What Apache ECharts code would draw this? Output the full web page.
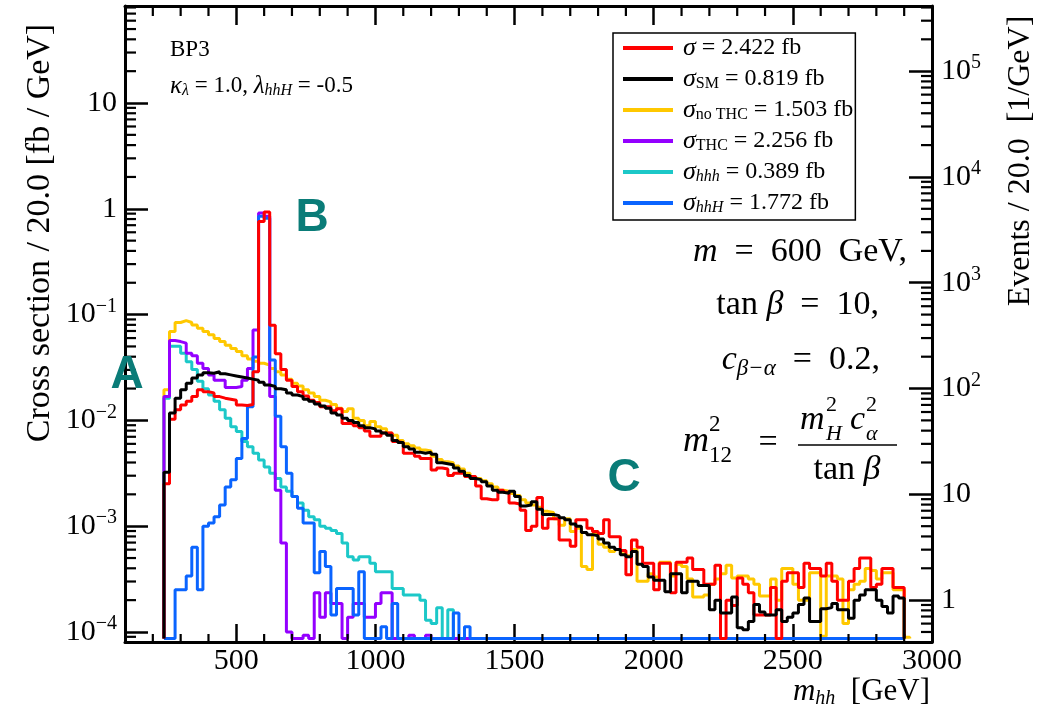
<!DOCTYPE html>
<html lang="en">
<head>
<meta charset="utf-8">
<title>BP3 m_hh distribution</title>
<script src="https://cdn.jsdelivr.net/npm/echarts@6.0.0/dist/echarts.min.js"></script>
<style>
    html, body { margin: 0; padding: 0; background: #fff; }
    #main { width: 1041px; height: 723px; }
</style>
</head>
<body>
<div id="main"></div>
<script>
// 20 GeV bins, first bin starts at 240 GeV; bins past the end of a list are empty
const binStart = 240
const binWidth = 20
const nBins = 133

// log10 of cross section / 20 GeV [fb/GeV] for each bin, null = empty bin
const sigmaLog = [
    -2.60, -1.99, -1.90, -1.855, -1.82, -1.775, -1.71, -1.73, -1.74, -1.775,
    -1.79, -1.80, -1.81, -1.855, -1.86, -1.85, -1.54, -0.12, -0.03, -1.10,
    -1.37, -1.52, -1.62, -1.68, -1.73, -1.77, -1.81, -1.83, -1.87, -1.87,
    -1.91, -1.89, -2.03, -2.03, -2.05, -2.07, -2.10, -2.15, -2.15, -2.12,
    -2.12, -2.20, -2.21, -2.31, -2.31, -2.34, -2.36, -2.36, -2.47, -2.45,
    -2.46, -2.52, -2.50, -2.50, -2.53, -2.53, -2.62, -2.74, -2.75, -2.75,
    -2.66, -2.68, -2.78, -2.79, -2.85, -3.04, -3.00, -2.73, -3.02, -2.93,
    -2.93, -3.13, -3.13, -3.19, -2.94, -2.94, -3.02, -3.05, -3.07, -2.94,
    -3.10, -3.10, -3.23, -3.46, -3.13, -3.20, -3.35, -3.35, -3.60, -3.35,
    -3.35, -3.63, -3.34, -3.34, -3.30, -3.41, -3.41, -3.55, -3.55, -3.37,
    null, -3.70, -3.75, -3.49, -3.55, -3.63, -3.84, -3.84, -3.84, -3.58,
    null, -3.52, -3.44, -3.44, -3.58, -3.35, -3.40, -3.40, -3.47, -3.35,
    -3.52, -3.70, -3.70, -3.52, -3.40, -3.30, -3.30, -3.58, -3.55, -3.40,
    -3.40, -3.58, -3.58
]
const smLog = [
    -2.49, -1.93, -1.79, -1.71, -1.65, -1.60, -1.57, -1.55, -1.555, -1.54,
    -1.56, -1.57, -1.58, -1.59, -1.60, -1.61, -1.62, -1.64, -1.665, -1.68,
    -1.70, -1.71, -1.74, -1.76, -1.775, -1.80, -1.82, -1.845, -1.865, -1.885,
    -1.93, -1.95, -1.98, -2.00, -2.02, -2.05, -2.07, -2.08, -2.10, -2.12,
    -2.14, -2.19, -2.21, -2.25, -2.27, -2.30, -2.31, -2.30, -2.32, -2.40,
    -2.41, -2.42, -2.45, -2.48, -2.52, -2.55, -2.56, -2.58, -2.62, -2.66,
    -2.68, -2.69, -2.67, -2.72, -2.81, -2.80, -2.77, -2.84, -2.89, -2.89,
    -2.90, -2.92, -2.94, -2.98, -3.00, -3.06, -3.08, -3.09, -3.12, -3.16,
    -3.20, -3.22, -3.27, -3.29, -3.24, -3.36, -3.38, -3.48, -3.51, -3.51,
    -3.62, -3.45, -3.45, -3.63, -3.52, -3.52, -3.56, -3.56, -3.79, -3.70,
    -3.82, -3.82, -3.67, -3.96, -3.98, -3.90, -3.74, -3.81, -3.84, -3.84,
    -3.79, -3.90, -3.86, -3.82, -3.74, -3.68, -3.90, -3.90, -3.78, -3.77,
    -3.73, -3.79, -3.79, -3.87, -3.70, -3.65, -3.60, -3.60, -3.70, -3.76,
    -3.82, -3.66, -3.68
]
// no-THC has one extra bin (2900-2920)
const noThcLog = [
    -1.71, -1.16, -1.075, -1.057, -1.075, -1.098, -1.13, -1.16, -1.19, -1.225,
    -1.255, -1.29, -1.32, -1.35, -1.39, -1.42, -1.44, -1.46, -1.477, -1.51,
    -1.54, -1.57, -1.61, -1.65, -1.675, -1.71, -1.74, -1.775, -1.81, -1.825,
    -1.85, -1.885, -1.915, -1.89, -1.98, -2.00, -2.05, -2.01, -2.06, -2.08,
    -2.12, -2.14, -2.19, -2.22, -2.24, -2.26, -2.28, -2.29, -2.34, -2.37,
    -2.39, -2.40, -2.43, -2.46, -2.50, -2.53, -2.55, -2.57, -2.60, -2.63,
    -2.66, -2.67, -2.69, -2.71, -2.75, -2.78, -2.80, -2.82, -2.86, -2.87,
    -2.93, -2.99, -2.93, -3.05, -3.02, -3.38, -3.41, -3.07, -3.17, -3.20,
    -3.24, -3.22, -3.26, -3.28, -3.22, -3.52, -3.52, -3.45, -3.48, -3.34,
    -3.34, -3.47, -3.36, -3.38, -3.50, -3.67, -3.67, -3.65, -3.55, -3.50,
    -3.45, -3.37, -3.49, -3.47, -3.47, -3.50, -3.55, -3.66, -3.66, -3.50,
    -3.70, -3.40, -3.40, -3.55, -3.70, -3.70, -3.44, -3.44, -4.04, -3.47,
    -3.47, -3.50, -3.92, -3.60, -3.55, -3.52, -3.40, -3.42, -3.50, -3.44,
    -3.44, -3.60, -3.60, -4.05
]
const thcLog = [
    -1.775, -1.245, -1.255, -1.27, -1.365, -1.39, -1.46, -1.51, -1.57, -1.62,
    -1.62, -1.69, -1.69, -1.68, -1.62, -1.51, -1.145, -0.04, -0.07, -1.775,
    -2.66, -3.16, -4.0, null, null, -4.03, null, -3.63, -3.86, -3.63,
    -3.73, -3.73, null, -3.86, -3.73, -3.73, -3.86, -3.86, -3.73, -3.63,
    -3.63, null, null, null, -4.03, null, null, -4.03
]
const hhhLog = [
    -1.79, -1.30, -1.30, -1.365, -1.445, -1.52, -1.63, -1.70, -1.76, -1.82,
    -1.90, -1.98, -2.06, -2.105, -2.20, -2.25, -2.31, -2.375, -2.44, -2.50,
    -2.55, -2.63, -2.67, -2.72, -2.78, -2.85, -2.91, -2.94, -3.00, -3.02,
    -3.04, -3.07, -3.16, -3.29, -3.32, -3.29, -3.29, -3.35, -3.43, -3.43,
    -3.43, -3.59, -3.59, -3.65, -3.65, -3.65, -3.70, -3.89, -3.92, -3.77,
    null, -3.79
]
const hhHLog = [
    null, null, -3.60, -3.60, -3.47, -3.20, -3.60, -3.00, -2.97, -2.91,
    -2.80, -2.63, -2.56, -2.36, -2.17, -1.87, -1.40, -0.07, -0.09, -1.43,
    -1.96, -2.25, -2.50, -2.72, -2.83, -2.97, -2.97, -3.44, -3.24, -3.38,
    -3.84, -3.59, -3.59, -3.59, -3.84, -3.43, null, null, null, -3.95,
    null, -3.73, null, null, null, null, null, null, null, null,
    null, null, -3.82, null, -3.95
]

// legend entries
const legendSub = ['', 'SM', 'no THC', 'THC', 'hhh', 'hhH']
const legendXsec = ['2.422', '0.819', '1.503', '2.256', '0.389', '1.772']
const colors = ['#ff0000', '#000000', '#ffc800', '#9400ff', '#1cc8c8', '#0a64ff']

// axes
const xMin = 100
const xMax = 3000
const yMin = 8.04e-5
const yMax = 82.6
const eventsPerFb = 5000
const floorVal = yMin * 1.08

const serif = 'Liberation Serif'
const teal = '#0a7c78'

const names = legendSub.map((s, i) => 'σ' + s + ' = ' + legendXsec[i] + ' fb')

function toSteps (logs, n) {
    const pts = [[binStart, floorVal]]
    for (let i = 0; i < n; i++) {
        const l = logs[i]
        pts.push([binStart + i * binWidth, l == null ? floorVal : Math.pow(10, l)])
    }
    pts.push([binStart + n * binWidth, floorVal])
    return pts
}

function histSeries (idx, logs, n) {
    return {
        name: names[idx],
        type: 'line',
        step: 'end',
        data: toSteps(logs, n),
        symbol: 'none',
        color: colors[idx],
        lineStyle: { color: colors[idx], width: 3 },
        clip: true,
        animation: false
    }
}

// minor tick positions
const xMinor = []
for (let m = 200; m < xMax; m += 100) {
    if (m % 500 !== 0) xMinor.push(m)
}
function logMinor (lo, hi) {
    const out = []
    for (let e = -6; e <= 6; e++) {
        for (let k = 2; k <= 9; k++) {
            const v = k * Math.pow(10, e)
            if (v > lo && v < hi) out.push(v)
        }
    }
    return out
}

function tickSeries (pts, dx, dy, yIdx) {
    return {
        type: 'custom',
        xAxisIndex: 0,
        yAxisIndex: yIdx,
        silent: true,
        z: 6,
        animation: false,
        data: pts,
        renderItem (params, api) {
            const p = api.coord([api.value(0), api.value(1)])
            return {
                type: 'line',
                shape: { x1: p[0], y1: p[1], x2: p[0] + dx, y2: p[1] + dy },
                style: { stroke: '#000', lineWidth: 2.2 }
            }
        }
    }
}

function powLabel (v) {
    const e = Math.round(Math.log10(v))
    if (e === 0) return '{b|1}'
    if (e === 1) return '{b|10}'
    return '{b|10}{sup|' + (e < 0 ? '−' + (-e) : e) + '}'
}
const powRich = {
    b: { fontFamily: serif, fontSize: 30, lineHeight: 36, color: '#000' },
    sup: { fontFamily: serif, fontSize: 20, lineHeight: 16, verticalAlign: 'top', color: '#000' }
}

const mathRich = {
    i: { fontFamily: serif, fontStyle: 'italic', fontSize: 34, lineHeight: 40, color: '#000' },
    r: { fontFamily: serif, fontSize: 34, lineHeight: 40, color: '#000' },
    sub: { fontFamily: serif, fontStyle: 'italic', fontSize: 23, lineHeight: 18, verticalAlign: 'bottom', color: '#000' }
}

function txt (x, y, text, size, opts) {
    opts = opts || {}
    return {
        type: 'text', x: x, y: y, z: 10, rotation: opts.rotation || 0,
        style: {
            text: text, fill: opts.color || '#000',
            fontFamily: opts.family || serif, fontSize: size,
            fontStyle: opts.italic ? 'italic' : 'normal',
            fontWeight: opts.bold ? 'bold' : 'normal',
            align: opts.align || 'left', verticalAlign: 'middle'
        }
    }
}

const axisLineStyle = { color: '#000', width: 3 }
const tickStyle = { color: '#000', width: 2.5 }

const option = {
    animation: false,
    backgroundColor: '#fff',
    grid: { left: 125, right: 109, top: 6, bottom: 81, containLabel: false, outerBoundsMode: 'none' },
    legend: {
        data: names,
        orient: 'vertical',
        left: 613,
        top: 33,
        icon: 'rect',
        itemWidth: 50,
        itemHeight: 4,
        itemGap: 5,
        selectedMode: false,
        borderColor: '#000',
        borderWidth: 1.5,
        borderRadius: 0,
        padding: [2, 2, 4, 10],
        formatter (name) {
            const i = names.indexOf(name)
            const sub = legendSub[i] ? (i >= 4 ? '{subi|' + legendSub[i] + '}' : '{sub|' + legendSub[i] + '}') : ''
            return '{g|σ}' + sub + '{t| = ' + legendXsec[i] + ' fb}'
        },
        textStyle: {
            color: '#000',
            rich: {
                g: { fontFamily: serif, fontStyle: 'italic', fontSize: 26, lineHeight: 26, color: '#000', padding: [0, 0, 0, 5] },
                sub: { fontFamily: serif, fontSize: 16, lineHeight: 12, verticalAlign: 'bottom', color: '#000' },
                subi: { fontFamily: serif, fontStyle: 'italic', fontSize: 16, lineHeight: 12, verticalAlign: 'bottom', color: '#000' },
                t: { fontFamily: serif, fontSize: 24, lineHeight: 26, color: '#000' }
            }
        }
    },
    xAxis: [
        {
            type: 'value', min: xMin, max: xMax, position: 'bottom',
            minInterval: 500, maxInterval: 500,
            axisLine: { onZero: false, lineStyle: axisLineStyle },
            axisTick: { inside: true, length: 18, lineStyle: tickStyle },
            axisLabel: { showMinLabel: false, margin: 4, fontFamily: serif, fontSize: 30, color: '#000', formatter: v => String(v) },
            splitLine: { show: false }
        },
        {
            type: 'value', min: xMin, max: xMax, position: 'top',
            minInterval: 500, maxInterval: 500,
            axisLine: { onZero: false, lineStyle: axisLineStyle },
            axisTick: { inside: true, length: 19, lineStyle: tickStyle },
            axisLabel: { show: false },
            splitLine: { show: false }
        }
    ],
    yAxis: [
        {
            type: 'log', logBase: 10, min: yMin, max: yMax, position: 'left',
            axisLine: { onZero: false, lineStyle: axisLineStyle },
            axisTick: { inside: true, length: 23, lineStyle: tickStyle },
            axisLabel: { showMinLabel: false, showMaxLabel: false, margin: 8, formatter: powLabel, rich: powRich },
            splitLine: { show: false }
        },
        {
            type: 'log', logBase: 10, min: yMin * eventsPerFb, max: yMax * eventsPerFb, position: 'right',
            axisLine: { onZero: false, lineStyle: axisLineStyle },
            axisTick: { inside: true, length: 23, lineStyle: tickStyle },
            axisLabel: { showMinLabel: false, showMaxLabel: false, margin: 9, formatter: powLabel, rich: powRich },
            splitLine: { show: false }
        }
    ],
    series: [
        histSeries(2, noThcLog, nBins + 1),
        histSeries(4, hhhLog, nBins),
        histSeries(3, thcLog, nBins),
        histSeries(5, hhHLog, nBins),
        histSeries(0, sigmaLog, nBins),
        histSeries(1, smLog, nBins),
        tickSeries(logMinor(yMin, yMax).map(v => [xMin, v]), 11, 0, 0),
        tickSeries(logMinor(yMin * eventsPerFb, yMax * eventsPerFb).map(v => [xMax, v]), -11, 0, 1),
        tickSeries(xMinor.map(v => [v, yMin]), 0, -8, 0),
        tickSeries(xMinor.map(v => [v, yMax]), 0, 10, 0)
    ],
    graphic: [
        // axis titles
        txt(40, 233, 'Cross section / 20.0 [fb / GeV]', 34, { rotation: Math.PI / 2, align: 'center' }),
        txt(1021, 161, 'Events / 20.0  [1/GeV]', 32, { rotation: Math.PI / 2, align: 'center' }),
        {
            type: 'text', x: 930, y: 692,
            style: {
                text: '{i|m}{s|hh}{t|  [GeV]}', align: 'right', verticalAlign: 'middle',
                rich: {
                    i: { fontFamily: serif, fontStyle: 'italic', fontSize: 31, lineHeight: 34, color: '#000' },
                    s: { fontFamily: serif, fontStyle: 'italic', fontSize: 20, lineHeight: 14, verticalAlign: 'bottom', color: '#000' },
                    t: { fontFamily: serif, fontSize: 31, lineHeight: 34, color: '#000' }
                }
            }
        },
        // benchmark text
        txt(170, 50, 'BP3', 23),
        {
            type: 'text', x: 170, y: 86,
            style: {
                text: '{g|κ}{s|λ}{t| = 1.0, }{g|λ}{s|hhH}{t| = -0.5}', align: 'left', verticalAlign: 'middle',
                rich: {
                    g: { fontFamily: serif, fontStyle: 'italic', fontSize: 25, lineHeight: 26, color: '#000' },
                    s: { fontFamily: serif, fontStyle: 'italic', fontSize: 16, lineHeight: 12, verticalAlign: 'bottom', color: '#000' },
                    t: { fontFamily: serif, fontSize: 23, lineHeight: 26, color: '#000' }
                }
            }
        },
        // model parameters
        { type: 'text', x: 907, y: 252, z: 10, style: { text: '{i|m}{r|  =  600  GeV,}', align: 'right', verticalAlign: 'middle', rich: mathRich } },
        { type: 'text', x: 879, y: 305, z: 10, style: { text: '{r|tan }{i|β}{r|  =  10,}', align: 'right', verticalAlign: 'middle', rich: mathRich } },
        { type: 'text', x: 880, y: 360, z: 10, style: { text: '{i|c}{sub|β−α}{r|  =  0.2,}', align: 'right', verticalAlign: 'middle', rich: mathRich } },
        txt(683, 442, 'm', 36, { italic: true }),
        txt(709, 425, '2', 23),
        txt(709, 456, '12', 23),
        txt(768, 443, '=', 34, { align: 'center' }),
        txt(800, 420, 'm', 34, { italic: true }),
        txt(826, 405, '2', 22),
        txt(826, 434, 'H', 22, { italic: true }),
        txt(850, 420, 'c', 34, { italic: true }),
        txt(866, 405, '2', 22),
        txt(866, 434, 'α', 22, { italic: true }),
        { type: 'line', z: 10, shape: { x1: 798, y1: 445, x2: 897, y2: 445 }, style: { stroke: '#000', lineWidth: 1.5 } },
        { type: 'text', x: 847, y: 470, z: 10, style: { text: '{r|tan }{i|β}', align: 'center', verticalAlign: 'middle', rich: mathRich } },
        // region labels
        txt(127, 375, 'A', 46, { family: 'Liberation Sans', bold: true, color: teal, align: 'center' }),
        txt(312, 218, 'B', 46, { family: 'Liberation Sans', bold: true, color: teal, align: 'center' }),
        txt(624, 478, 'C', 46, { family: 'Liberation Sans', bold: true, color: teal, align: 'center' })
    ]
}

const myChart = echarts.init(document.getElementById('main'))
myChart.setOption(option)
</script>
</body>
</html>
